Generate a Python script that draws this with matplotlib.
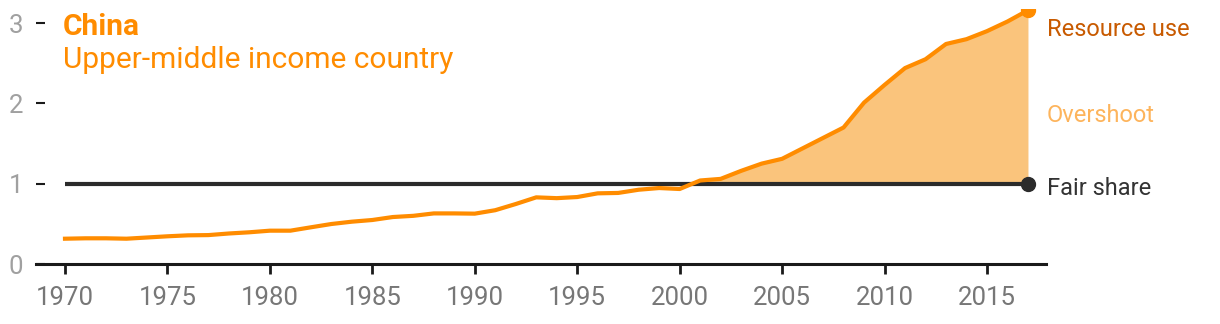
import matplotlib.pyplot as plt
import numpy as np

plt.rcParams['font.family'] = ['Roboto', 'DejaVu Sans']

# China: resource use relative to its fair share (1 = fair share)
years = list(range(1970, 2018))
resource_use = [0.315, 0.32, 0.32, 0.315, 0.33, 0.345, 0.357, 0.36, 0.38, 0.395,
                0.415, 0.415, 0.457, 0.498, 0.527, 0.548, 0.585, 0.60, 0.63, 0.63,
                0.627, 0.67, 0.747, 0.83, 0.82, 0.834, 0.88, 0.885, 0.925, 0.946,
                0.934, 1.04, 1.06, 1.16, 1.25, 1.31, 1.44, 1.57, 1.70, 2.01,
                2.23, 2.44, 2.55, 2.74, 2.80, 2.90, 3.02, 3.16]
fair_share = 1.0
xticks = [1970, 1975, 1980, 1985, 1990, 1995, 2000, 2005, 2010, 2015]
yticks = [0, 1, 2, 3]

orange = '#ff8c00'
fill_col = '#fac47c'
dark = '#2b2b2b'

x = np.array(years)
y = np.array(resource_use)

fig = plt.figure(figsize=(12.2, 3.24), dpi=100)
ax = fig.add_axes([36 / 1220, 60 / 324, 1010 / 1220, 254.7 / 324])

ax.fill_between(x, fair_share, y, where=y >= fair_share, interpolate=True,
                color=fill_col, lw=0)
ax.plot([x[0], x[-1]], [fair_share, fair_share], color=dark, lw=3, solid_capstyle='butt', zorder=3)
ax.plot(x, y, color=orange, lw=3, solid_joinstyle='round', zorder=4)
ax.plot(x[-1], fair_share, 'o', color=dark, ms=10, zorder=5)
ax.plot(x[-1], y[-1], 'o', color=orange, ms=10, zorder=5)

ax.set_xlim(1968.585, 2017.88)
ax.set_ylim(0, 3.172)

for s in ['top', 'right', 'left']:
    ax.spines[s].set_visible(False)
ax.spines['bottom'].set_color('#1a1a1a')
ax.spines['bottom'].set_linewidth(2.2)

ax.set_xticks(xticks)
ax.set_yticks(yticks)
ax.tick_params(axis='x', direction='out', length=7.5, width=2, color='#1a1a1a',
               labelsize=18.5, labelcolor='#777777', pad=8)
ax.tick_params(axis='y', direction='in', length=6.5, width=1.5, color='#1a1a1a',
               labelsize=18.5, labelcolor='#a0a0a0', pad=9)

fig.text(63 / 1220, (324 - 35) / 324, 'China', color=orange, fontsize=21.5,
         fontweight='bold', va='baseline', ha='left')
fig.text(63 / 1220, (324 - 68) / 324, 'Upper-middle income country', color=orange,
         fontsize=21.5, va='baseline', ha='left')

fig.text(1047 / 1220, (324 - 36) / 324, 'Resource use', color='#c85a00',
         fontsize=17, va='baseline', ha='left')
fig.text(1047 / 1220, (324 - 121.5) / 324, 'Overshoot', color='#fdb45c',
         fontsize=17, va='baseline', ha='left')
fig.text(1047 / 1220, (324 - 195) / 324, 'Fair share', color='#333333',
         fontsize=17, va='baseline', ha='left')

fig.savefig('out.png', dpi=100)
